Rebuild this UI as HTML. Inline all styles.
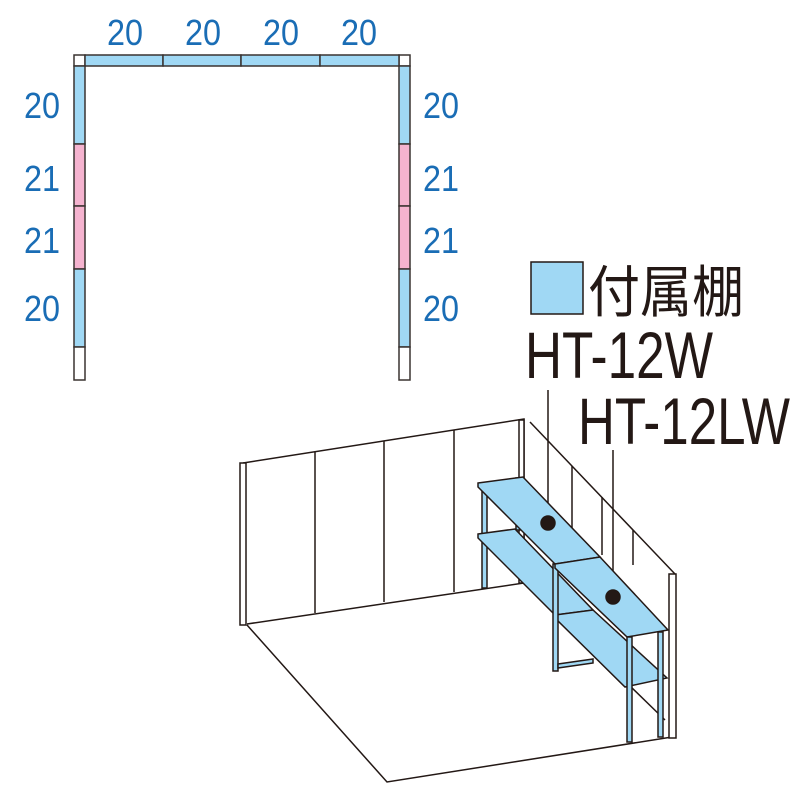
<!DOCTYPE html>
<html><head><meta charset="utf-8"><style>html,body{margin:0;padding:0;background:#fff}svg{display:block}</style></head>
<body>
<svg width="800" height="800" viewBox="0 0 800 800" xmlns="http://www.w3.org/2000/svg">
<g font-family="Liberation Sans, sans-serif" fill="#1a6db5" font-size="36">
<text x="107" y="45" textLength="36" lengthAdjust="spacingAndGlyphs">20</text>
<text x="185" y="45" textLength="36" lengthAdjust="spacingAndGlyphs">20</text>
<text x="263" y="45" textLength="36" lengthAdjust="spacingAndGlyphs">20</text>
<text x="341" y="45" textLength="36" lengthAdjust="spacingAndGlyphs">20</text>
<text x="24" y="118" textLength="36" lengthAdjust="spacingAndGlyphs">20</text>
<text x="24" y="191" textLength="36" lengthAdjust="spacingAndGlyphs">21</text>
<text x="24" y="253" textLength="36" lengthAdjust="spacingAndGlyphs">21</text>
<text x="24" y="321" textLength="36" lengthAdjust="spacingAndGlyphs">20</text>
<text x="423" y="118" textLength="36" lengthAdjust="spacingAndGlyphs">20</text>
<text x="423" y="191" textLength="36" lengthAdjust="spacingAndGlyphs">21</text>
<text x="423" y="253" textLength="36" lengthAdjust="spacingAndGlyphs">21</text>
<text x="423" y="321" textLength="36" lengthAdjust="spacingAndGlyphs">20</text>
</g>
<g stroke="#3a3330" stroke-width="1.5">
<rect x="74" y="55" width="11" height="11" fill="#fff"/>
<rect x="399" y="55" width="11" height="11" fill="#fff"/>
<rect x="85" y="55" width="78" height="11" fill="#a0d8f4"/>
<rect x="163" y="55" width="78" height="11" fill="#a0d8f4"/>
<rect x="241" y="55" width="79" height="11" fill="#a0d8f4"/>
<rect x="320" y="55" width="79" height="11" fill="#a0d8f4"/>
<rect x="74" y="66" width="11" height="78" fill="#a0d8f4"/>
<rect x="74" y="144" width="11" height="62" fill="#f5b3cf"/>
<rect x="74" y="206" width="11" height="63" fill="#f5b3cf"/>
<rect x="74" y="269" width="11" height="78" fill="#a0d8f4"/>
<rect x="74" y="347" width="11" height="33" fill="#fff"/>
<rect x="399" y="66" width="11" height="78" fill="#a0d8f4"/>
<rect x="399" y="144" width="11" height="62" fill="#f5b3cf"/>
<rect x="399" y="206" width="11" height="63" fill="#f5b3cf"/>
<rect x="399" y="269" width="11" height="78" fill="#a0d8f4"/>
<rect x="399" y="347" width="11" height="33" fill="#fff"/>
</g>
<rect x="531" y="262" width="52" height="52" fill="#a0d8f4" stroke="#231815" stroke-width="1.5"/>
<g font-family="Liberation Sans, Noto Sans CJK JP, sans-serif" fill="#231815">
<text x="588" y="312" font-size="56" textLength="156" lengthAdjust="spacingAndGlyphs">付属棚</text>
<text x="525" y="378" font-size="66" textLength="188" lengthAdjust="spacingAndGlyphs">HT-12W</text>
<text x="578" y="444" font-size="66" textLength="212" lengthAdjust="spacingAndGlyphs">HT-12LW</text>
</g>
<g stroke="#231815" stroke-width="1.5" fill="none">
<polyline points="243,463 524,419 524,583 247,624"/>
<line x1="315" y1="452" x2="315" y2="613"/>
<line x1="384" y1="441" x2="384" y2="602"/>
<line x1="454" y1="430" x2="454" y2="592"/>
<polyline points="530,422 675,574"/>
<line x1="572" y1="466" x2="572" y2="545"/>
<line x1="602" y1="497" x2="602" y2="555"/>
<line x1="633" y1="530" x2="633" y2="565"/>
<polyline points="247,625 387,782 672,737"/>
<line x1="524" y1="583" x2="665" y2="720"/>
<rect x="240" y="463" width="6" height="162" fill="#fff"/>
<rect x="519" y="420" width="5" height="163" fill="#fff"/>
<rect x="669" y="574" width="7" height="164" fill="#fff"/>
<line x1="548" y1="390" x2="548" y2="523"/>
<line x1="613" y1="450" x2="613" y2="597"/>
</g>
<g stroke="#231815" stroke-width="1.5" fill="#a0d8f4">
<rect x="482" y="490" width="5" height="98"/>
<rect x="516" y="478" width="4" height="52"/>
<polygon points="478,534 515,529 593,610 555,615 478,538"/>
<polygon points="555,615 593,610 667,678 625,687 555,618"/>
<rect x="553" y="564" width="5" height="107"/>
<polygon points="558,664 593,659 593,663 558,668"/>
<polygon points="478,483 523,477 600,557 555,564 478,487"/>
<polygon points="555,564 600,557 668,630 627,637 555,568"/>
<rect x="627" y="637" width="5" height="105"/>
<rect x="658" y="632" width="5" height="105"/>
<circle cx="548" cy="523" r="7" fill="#231815"/>
<circle cx="613" cy="597" r="7" fill="#231815"/>
</g>
</svg>
</body></html>
